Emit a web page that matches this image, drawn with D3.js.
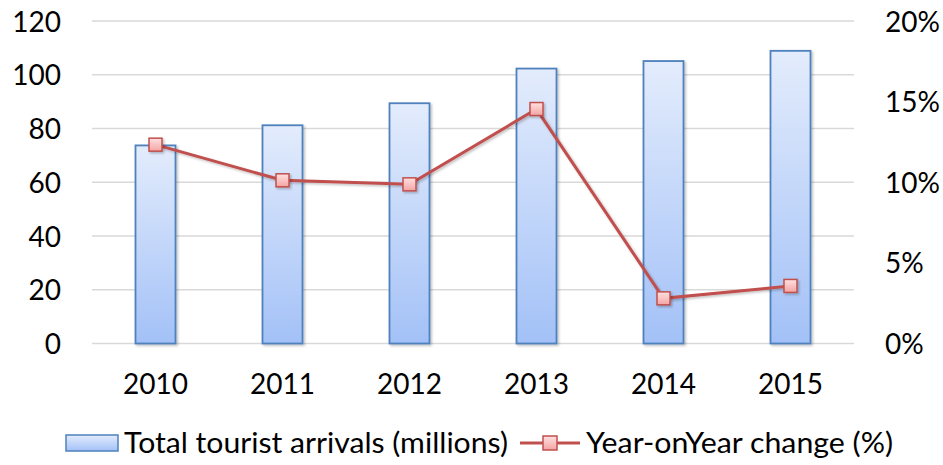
<!DOCTYPE html>
<html><head><meta charset="utf-8">
<script src="https://cdn.jsdelivr.net/npm/d3@7"></script>
<style>body{margin:0;background:#fff}svg{display:block}text{font-family:Lato,"Open Sans",sans-serif;fill:#000}</style>
</head><body><svg id="c" width="943" height="465"></svg>
<script>
const years = ["2010","2011","2012","2013","2014","2015"];
const arrivals = [73.7, 81.2, 89.4, 102.3, 105.1, 108.9];
const yoyChange = [12.33, 10.12, 9.87, 14.54, 2.80, 3.57];
const leftTicks = [0,20,40,60,80,100,120];
const rightTicks = [0,5,10,15,20];
const seriesNames = ["Total tourist arrivals (millions)","Year-onYear change (%)"];

const svg = d3.select("#c");
const L = 92, R = 854, T = 21, B = 343.5;
const x = d3.scaleBand().domain(years).range([L,R]).paddingInner(0.685).paddingOuter(0.3425);
const xc = d => x(d) + x.bandwidth()/2;
const y = d3.scaleLinear().domain([0,120]).range([B,T]);
const y2 = d3.scaleLinear().domain([0,20]).range([B,T]);

const defs = svg.append("defs");
const bg = defs.append("linearGradient").attr("id","bg").attr("x1",0).attr("y1",0).attr("x2",0).attr("y2",1);
bg.append("stop").attr("offset","0%").attr("stop-color","#e3ecfc");
bg.append("stop").attr("offset","100%").attr("stop-color","#a3c1f7");
const mg = defs.append("linearGradient").attr("id","mg").attr("x1",0).attr("y1",0).attr("x2",0).attr("y2",1);
mg.append("stop").attr("offset","0%").attr("stop-color","#ffe0e0");
mg.append("stop").attr("offset","100%").attr("stop-color","#f4a4a4");
const sh = defs.append("filter").attr("id","sh").attr("x","-20%").attr("y","-20%").attr("width","150%").attr("height","150%");
sh.append("feDropShadow").attr("dx",1.5).attr("dy",1.5).attr("stdDeviation",1.2).attr("flood-color","#000").attr("flood-opacity",0.25);

// gridlines
svg.append("g").selectAll("line").data(leftTicks).join("line")
  .attr("x1",L).attr("x2",R).attr("y1",d=>y(d)).attr("y2",d=>y(d))
  .attr("stroke","#d9d9d9").attr("stroke-width",1.5);

// left axis
const ga = svg.append("g").attr("transform",`translate(${L},0)`)
  .call(d3.axisLeft(y).tickValues(leftTicks).tickSize(0).tickPadding(31));
ga.select(".domain").remove();
ga.selectAll("text").style("font-size","28px").attr("dy","0.36em");

// right axis
const gr = svg.append("g").attr("transform",`translate(${R},0)`)
  .call(d3.axisRight(y2).tickValues(rightTicks).tickSize(0).tickPadding(31).tickFormat(d=>d+"%"));
gr.select(".domain").remove();
gr.selectAll("text").style("font-size","28px").attr("dy","0.36em");

// x axis
const gx = svg.append("g").attr("transform",`translate(0,${B})`)
  .call(d3.axisBottom(x).tickSize(0).tickPadding(31));
gx.select(".domain").remove();
gx.selectAll("text").style("font-size","28px");

// bars
svg.append("g").selectAll("rect").data(years).join("rect")
  .attr("x",d=>x(d)).attr("width",x.bandwidth())
  .attr("y",(d,i)=>y(arrivals[i])).attr("height",(d,i)=>B-y(arrivals[i]))
  .attr("fill","url(#bg)").attr("stroke","#4f81bd").attr("stroke-width",1.8)
  .attr("filter","url(#sh)");

// line
const line = d3.line().x((d,i)=>xc(years[i])).y(d=>y2(d));
svg.append("path").datum(yoyChange).attr("d",line).attr("fill","none")
  .attr("stroke","#c0504d").attr("stroke-width",3).attr("filter","url(#sh)");
svg.append("g").selectAll("rect").data(yoyChange).join("rect")
  .attr("x",(d,i)=>xc(years[i])-6.5).attr("y",d=>y2(d)-6.5)
  .attr("width",13).attr("height",13)
  .attr("fill","url(#mg)").attr("stroke","#c0504d").attr("stroke-width",1.5)
  .attr("filter","url(#sh)");

// legend
const ly = 443;
const lg = svg.append("g");
lg.append("rect").attr("x",66).attr("y",ly-8).attr("width",52).attr("height",16)
  .attr("fill","url(#bg)").attr("stroke","#4f81bd").attr("stroke-width",1.5);
lg.append("text").attr("x",124).attr("y",ly).attr("dy","0.36em").style("font-size","28px")
  .attr("textLength",384).attr("lengthAdjust","spacingAndGlyphs").text(seriesNames[0]);
lg.append("line").attr("x1",520).attr("x2",580).attr("y1",ly).attr("y2",ly).attr("stroke","#c0504d").attr("stroke-width",3);
lg.append("rect").attr("x",543).attr("y",ly-7).attr("width",14).attr("height",14)
  .attr("fill","url(#mg)").attr("stroke","#c0504d").attr("stroke-width",1.5);
lg.append("text").attr("x",586).attr("y",ly).attr("dy","0.36em").style("font-size","28px")
  .attr("textLength",307).attr("lengthAdjust","spacingAndGlyphs").text(seriesNames[1]);
</script></body></html>
